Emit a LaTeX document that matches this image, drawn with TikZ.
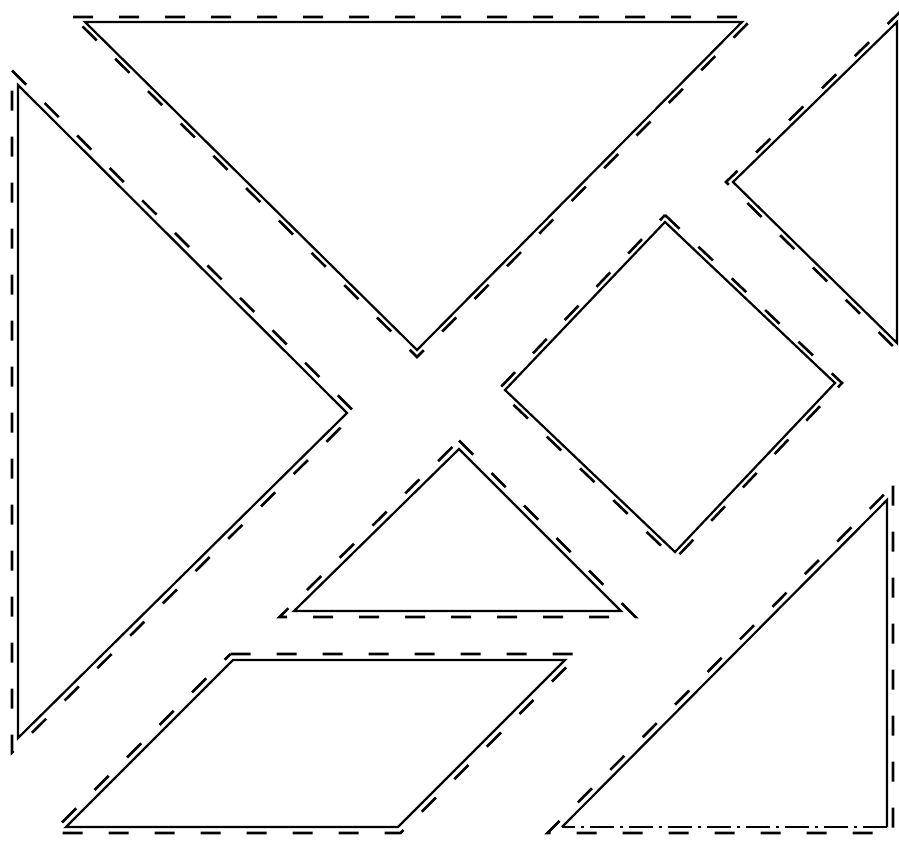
\documentclass[tikz,border=0pt]{standalone}
\begin{document}
\begin{tikzpicture}[x=1pt,y=-1pt,
  piece/.style={draw=black,line width=2.2pt,line join=miter},
  outline/.style={draw=black,line width=2.6pt,dash pattern=on 20pt off 26pt},
  dashdotline/.style={draw=black,line width=2.4pt,dash pattern=on 24pt off 6pt on 3pt off 6pt}]
\useasboundingbox[fill=white] (0,0) rectangle (899,847);
% 1 top large triangle
\draw[piece] (85,22) -- (742,22) -- (417,350) -- cycle;
\draw[outline] (73,17) -- (754,17) -- (417,357) -- cycle;
% 2 left large triangle
\draw[piece] (18,85) -- (347,413) -- (18,738) -- cycle;
\draw[outline] (12,70.5) -- (355.5,413) -- (12,752.5) -- cycle;
% 3 square
\draw[piece] (665,222) -- (835,383) -- (675,552) -- (505,390) -- cycle;
\draw[outline] (665,215) -- (842,383) -- (675,559) -- (498,390) -- cycle;
% 4 top right small triangle
\draw[piece] (897,22) -- (733,182) -- (897,343) -- cycle;
\draw[outline] (902,10) -- (726,182) -- (902,355) -- cycle;
% 5 middle small triangle
\draw[piece] (459,449) -- (621,611) -- (294,611) -- cycle;
\draw[outline] (459,440.5) -- (635.5,617) -- (279.5,617) -- cycle;
% 6 parallelogram
\draw[piece] (233,660) -- (565,660) -- (398,827) -- (66,827) -- cycle;
\draw[outline] (230.5,654) -- (579.5,654) -- (400.5,833) -- (51.5,833) -- cycle;
% 7 bottom right medium triangle
\draw[piece] (562,827) -- (887,500) -- (887,827);
\draw[dashdotline] (887,827) -- (562,827);
\draw[outline] (893,485.5) -- (893,833) -- (547.5,833) -- cycle;
\end{tikzpicture}
\end{document}
